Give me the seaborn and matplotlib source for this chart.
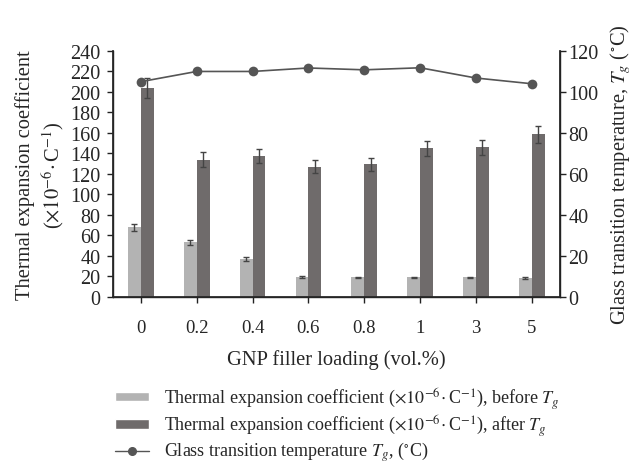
import numpy as np
import pandas as pd
import matplotlib
matplotlib.use("Agg")
import matplotlib.pyplot as plt
from matplotlib.patches import Patch
from matplotlib.lines import Line2D
import seaborn as sns

# Data
loadings = ["0", "0.2", "0.4", "0.6", "0.8", "1", "3", "5"]
cte_before = [68, 53.5, 37, 19.5, 19, 19, 19, 18.5]
cte_before_err = [3.5, 2.5, 1.8, 0.8, 0.8, 0.8, 0.8, 0.8]
cte_after = [204, 134, 137.5, 127, 129.5, 145, 146, 158.5]
cte_after_err = [10, 7, 7, 6.5, 6.5, 7.5, 7.5, 8.5]
tg = [105, 110, 110, 111.7, 110.8, 111.8, 106.8, 104]

sns.set_theme(style="white")
plt.rcParams["font.family"] = ["Liberation Serif", "DejaVu Serif"]
plt.rcParams["mathtext.fontset"] = "stix"

c_before = "#b3b3b3"
c_after = "#6f6b6b"
c_line = "#555555"
c_err = "#444444"

lab_before = r"Thermal expansion coefficient ($\times10^{-6}\!\cdot$C$^{-1}$), before $T_g$"
lab_after = r"Thermal expansion coefficient ($\times10^{-6}\!\cdot$C$^{-1}$), after $T_g$"
lab_tg = r"Glass transition temperature $T_g$, ($^{\circ}$C)"

df = pd.DataFrame({
    "loading": loadings * 2,
    "value": cte_before + cte_after,
    "series": ["before"] * len(loadings) + ["after"] * len(loadings),
})

fig = plt.figure(figsize=(6.34, 4.64), dpi=100)
ax = fig.add_axes([0.178, 0.358, 0.705, 0.530])

sns.barplot(data=df, x="loading", y="value", hue="series", order=loadings,
            hue_order=["before", "after"], palette=[c_before, c_after],
            width=0.46, gap=0, errorbar=None, legend=False, ax=ax,
            saturation=1, linewidth=0)

# error bars at bar centres
n = len(loadings)
errs = cte_before_err + cte_after_err
vals = cte_before + cte_after
for p, v, e in zip(ax.patches[:2 * n], vals, errs):
    xc = p.get_x() + p.get_width() / 2
    ax.errorbar(xc, v, yerr=e, fmt="none", ecolor=c_err, elinewidth=1,
                capsize=2.5, capthick=1)

ax.set_ylim(0, 240)
ax.set_yticks(range(0, 241, 20))
ax.set_xlim(-0.5, n - 0.5)
ax.set_xlabel("GNP filler loading (vol.%)", fontsize=14.8, labelpad=9)
ax.set_ylabel("Thermal expansion coefficient\n" + r"($\times10^{-6}\!\cdot$C$^{-1}$)",
              fontsize=14.8, linespacing=1.25, labelpad=3)
ax.tick_params(axis="y", labelsize=14.5, direction="out", length=4, width=1,
               left=True, pad=5, color="#222222")
ax.tick_params(axis="x", labelsize=13.5, direction="out", length=4, width=1,
               bottom=True, pad=12, color="#222222")
ax.spines["top"].set_visible(False)
for s in ["left", "bottom", "right"]:
    ax.spines[s].set_color("#222222")
    ax.spines[s].set_linewidth(1)

ax2 = ax.twinx()
sns.lineplot(x=np.arange(n), y=tg, ax=ax2, color=c_line, marker="o",
             markersize=7, markeredgewidth=0, linewidth=1.2)
ax2.set_ylim(0, 120)
ax2.set_yticks(range(0, 121, 20))
ax2.set_ylabel(r"Glass transition temperature, $T_g$ ($^{\circ}$C)", fontsize=14.8,
               labelpad=7)
ax2.tick_params(axis="y", labelsize=14.5, direction="out", length=4, width=1,
                right=True, pad=2, color="#222222")
ax2.spines["top"].set_visible(False)
ax2.spines["right"].set_color("#222222")
ax2.grid(False)
ax.grid(False)

handles = [
    Patch(facecolor=c_before, label=lab_before),
    Patch(facecolor=c_after, label=lab_after),
    Line2D([0], [0], color=c_line, marker="o", markersize=5.5, lw=1.0, label=lab_tg),
]
fig.legend(handles=handles, loc="upper left", bbox_to_anchor=(0.181, 0.168),
           frameon=False, fontsize=13, handlelength=1.9, handleheight=0.4,
           labelspacing=0.1, borderaxespad=0, borderpad=0, handletextpad=0.8)

fig.savefig("out.png", dpi=100)
